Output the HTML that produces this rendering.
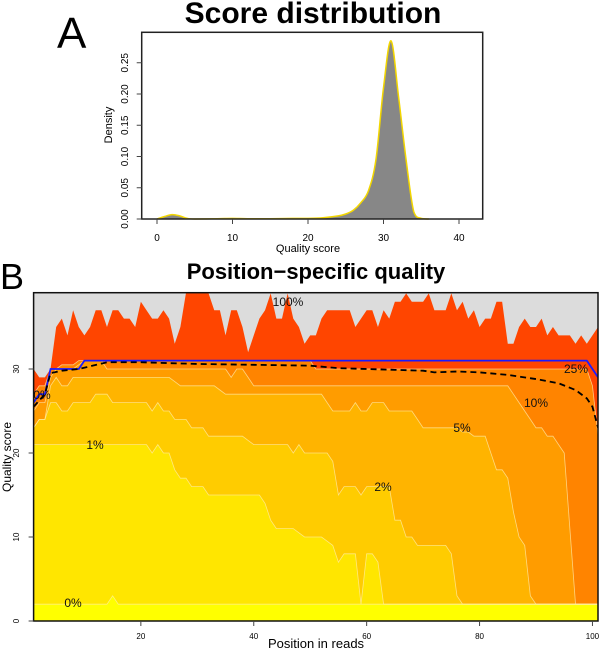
<!DOCTYPE html>
<html><head><meta charset="utf-8"><style>
html,body{margin:0;padding:0;background:#fff;}
svg{display:block;font-family:"Liberation Sans",Arial,sans-serif;}
</style></head><body>
<svg id="fig" width="600" height="651" viewBox="0 0 600 651" xmlns="http://www.w3.org/2000/svg">
<text x="57" y="48" font-size="44" fill="#000">A</text>
<text x="313" y="23" font-size="30" font-weight="bold" text-anchor="middle">Score distribution</text>
<g id="pa"></g>
<text x="0" y="289" font-size="36" fill="#000">B</text>
<text x="316" y="279" font-size="22" font-weight="bold" text-anchor="middle">Position−specific quality</text>
<g id="pb"></g>
</svg>
<script>
// ---------- Panel A data ----------
const densX = [0,1,2,3,4,5,8,10,12,15,18,20,22,24,25,26,27,28,29,30,31,32,33,34,35,36];
const densY = [0,0.004,0.007,0.005,0.001,0,0.0005,0.001,0.0005,0.0005,0.001,0.001,0.002,0.005,0.008,0.014,0.026,0.045,0.095,0.21,0.285,0.195,0.094,0.012,0.001,0];
const aXTicks = [0,10,20,30,40];
const aYTicks = [0,0.05,0.10,0.15,0.20,0.25];
const aYTickLabels = ["0.00","0.05","0.10","0.15","0.20","0.25"];

// ---------- Panel B data (positions 1..101) ----------
const positions = Array.from({length:101},(_,i)=>i+1);
const q0 = [2,2,2,2,2,2,2,2,2,2,2,2,2,2,3,2,2,2,2,2,2,2,2,2,2,2,2,2,2,2,2,2,2,2,2,2,2,2,2,2,2,2,2,2,2,2,2,2,2,2,2,2,2,2,2,2,2,2,2,2,2,2,2,2,2,2,2,2,2,2,2,2,2,2,2,2,2,2,2,2,2,2,2,2,2,2,2,2,2,2,2,2,2,2,2,2,2,2,2,2,2];
const q1 = [21,21,21,21,21,21,21,21,21,21,21,21,21,21,21,21,21,21,21,21,21,20,21,20,20,18,17,17,16,16,16,15,15,15,15,15,15,15,15,15,15,14,12,11,11,11,11,10.5,10,10,10,10,9.5,9,7,8,8,8,2,8,8,7,2,2,2,2,2,2,2,2,2,2,2,2,2,2,2,2,2,2,2,2,2,2,2,2,2,2,2,2,2,2,2,2,2,2,2,2,2,2,2];
const q2 = [23,24,24,26,26,25,25,26,26,26,26,27,27,27,26,26,26,26,26,26,26,25,26,25,25,24,24,24,23,23,23,22,22,22,22,22,22,22,21.5,21,21,21,21,21,21,21,20,21,20,20,20,20,20,19,15,16,16,16,15,16,16,16,16,16,12,12,10,10,9,9,9,9,9,9,8,3,2,2,2,2,2,2,2,2,2,2,2,2,2,2,2,2,2,2,2,2,2,2,2,2,2];
const q5 = [23,24,24,28,29,28,28,29,29,29,29,29,29,29,29,29,29,29,29,29,29,29,29,29,29,28.5,28,28,28,28,28,28,28,27.5,27,27,27,27,27,27,27,27,27,27,27,27,27,27,27,27,27,27,26,25,25,25,25,26,25,25,26,26,26,25,25,25,25,25,24,23,23,23,23,23,23,23,22.5,22.5,22,22,22,20,18,18,17,13,10,9,3,2,2,2,2,2,2,2,2,2,2,2,2];
const q10 = [25,26,26,29,30,30,30,30,30.5,31,31,31,31,30,30,30,30,30,30,30,30,30,30,30,30,30,30,30,30,30,30,30,30,30,30,29,30,30,29,28,28,28,28,28,28,28,28,28,28,28,28,28,28,28,28,28,28,28,28,28,28,28,28,28,28,28,28,28,28,28,28,28,28,28,28,28,28,28,28,28,28,28,28,28,28,27,26,25,24,23,23,22,22,21,20,11,2,2,2,2,2];
const q25 = [27,28,28,30,30,30.5,30.5,30.5,31,31,31,31,31,31,31,31,31,31,31,31,31,31,31,31,31,31,31,31,31,31,31,31,31,31,31,31,31,31,31,31,31,31,31,31,31,31,31,31,31,31,30,30,30,30,30,30,30,30,30,30,30,30,30,30,30,30,30,30,30,30,30,30,30,30,30,30,30,30,30,30,30,30,30,30,30,30,30,30,30,30,30,30,30,30,30,30,30,30,30,28,22];
const q100 = [30,29,29,30,35,36,34,37,35,34,35,37,37,35,37,37,36,36,35,38,37,36,36,37,36,33,35,40,40,40,40,39,37,37,34,37,37,35,32,34,36,37,39,36,36,39,36,35,33,34,34,36,37,37,37,37,37,35,36,37,37,35,37,36,38,38,39,38,38,38,39,37,37,37,39,37,38,36,37,35,36,36,38,38,33,33,35,36,35,35,36,34,35,34,34,34,33,34,33,34,35];
const medianQ = [26,27,27,30,30,30,30,30,30,31,31,31,31,31,31,31,31,31,31,31,31,31,31,31,31,31,31,31,31,31,31,31,31,31,31,31,31,31,31,31,31,31,31,31,31,31,31,31,31,31,31,31,31,31,31,31,31,31,31,31,31,31,31,31,31,31,31,31,31,31,31,31,31,31,31,31,31,31,31,31,31,31,31,31,31,31,31,31,31,31,31,31,31,31,31,31,31,31,31,30,29];
const meanPos = [1,3,4,6,9,14,20,30,40,50,55,60,65,70,72,76,80,85,90,94,97,99,100,101];
const meanQ = [25.5,27,29.5,29.8,30,30.8,30.8,30.6,30.5,30.4,30.1,30,29.9,29.8,29.6,29.7,29.6,29.3,28.8,28.3,27.5,26.5,25.5,23];
const bXTicks = [20,40,60,80,100];
const bYTicks = [0,10,20,30];
const contourLabels = ["0%","0%","1%","2%","5%","10%","25%","100%"];

const NS="http://www.w3.org/2000/svg";
function mk(parent,tag,attrs,name,text){
  const e=document.createElementNS(NS,tag);
  for(const k in attrs) e.setAttribute(k,attrs[k]);
  
  
  if(text!==undefined) e.textContent=text;
  parent.appendChild(e);return e;
}

// ---------- Panel A ----------
const pa=document.getElementById('pa');
const axL=141.7, axR=482.7, ayT=32.3, ayB=219;
const xA=v=>157+v*7.55, yA=d=>219-d*625;
const pts=densX.map((v,i)=>[xA(v),yA(densY[i])]);
let dp="M"+pts[0][0]+","+pts[0][1];
for(let i=0;i<pts.length-1;i++){
  const p0=pts[Math.max(i-1,0)],p1=pts[i],p2=pts[i+1],p3=pts[Math.min(i+2,pts.length-1)];
  const c1=[p1[0]+(p2[0]-p0[0])/6,p1[1]+(p2[1]-p0[1])/6];
  const c2=[p2[0]-(p3[0]-p1[0])/6,p2[1]-(p3[1]-p1[1])/6];
  dp+=` C${c1[0]},${Math.min(c1[1],ayB)} ${c2[0]},${Math.min(c2[1],ayB)} ${p2[0]},${p2[1]}`;
}
mk(pa,'path',{d:dp+" Z",fill:"#878787",stroke:"none"},'density-area');
mk(pa,'path',{d:dp,fill:"none",stroke:"#f2d600","stroke-width":1.5},'density-curve');
mk(pa,'rect',{x:axL,y:ayT,width:axR-axL,height:ayB-ayT,fill:"none",stroke:"#222","stroke-width":1.5},'plot-frame-a');
aXTicks.forEach(t=>{
  mk(pa,'line',{x1:xA(t),x2:xA(t),y1:ayB,y2:ayB+5,stroke:"#444"},'x-tick-a');
  mk(pa,'text',{x:xA(t),y:241,"font-size":10,"text-anchor":"middle"},'x-tick-label-a',String(t));
});
aYTicks.forEach((t,i)=>{
  mk(pa,'line',{x1:axL-5,x2:axL,y1:yA(t),y2:yA(t),stroke:"#444"},'y-tick-a');
  mk(pa,'text',{x:0,y:0,"font-size":10,"text-anchor":"middle",transform:`translate(128,${yA(t)}) rotate(-90)`},'y-tick-label-a',aYTickLabels[i]);
});
mk(pa,'text',{x:xA(20),y:252,"font-size":11,"text-anchor":"middle"},'x-axis-title-a',"Quality score");
mk(pa,'text',{x:0,y:0,"font-size":11,"text-anchor":"middle",transform:"translate(112,125) rotate(-90)"},'y-axis-title-a',"Density");

// ---------- Panel B ----------
const pb=document.getElementById('pb');
const bL=33.6,bR=598,bT=292.7,bB=621;
const xB=p=>33.6+(p-1)*5.645, yB=v=>Math.max(bT,621-v*8.4);
mk(pb,'clipPath',{id:"clipB"},'clip-b');
mk(pb.lastChild,'rect',{x:bL,y:bT,width:bR-bL,height:bB-bT},'clip-rect');
const g=mk(pb,'g',{"clip-path":"url(#clipB)"},'contour-layers');
mk(g,'rect',{x:bL,y:bT,width:bR-bL,height:bB-bT,fill:"#dcdcdc"},'background-above-max');
function area(arr){
  let d=`M${xB(positions[0])},${bB}`;
  arr.forEach((v,i)=>{d+=` L${xB(positions[i])},${yB(v)}`;});
  return d+` L${xB(positions[positions.length-1])},${bB} Z`;
}
function line(arr,px){
  return arr.map((v,i)=>(i?"L":"M")+xB(px[i])+","+yB(v)).join(" ");
}
const layers=[[q100,"#ff4500","band-25-100"],[q25,"#ff8400","band-10-25"],[q10,"#ff9c00","band-5-10"],[q5,"#ffb400","band-2-5"],[q2,"#ffcc00","band-1-2"],[q1,"#ffe600","band-0-1"],[q0,"#ffff00","band-0"]];
layers.forEach(L=>{
  mk(g,'path',{d:area(L[0]),fill:L[1],stroke:"none"},L[2]);
});
[q0,q1,q2,q5,q10,q25].forEach(arr=>{
  mk(g,'path',{d:line(arr,positions),fill:"none",stroke:"rgba(255,240,180,0.7)","stroke-width":0.8},'contour-line');
});
mk(g,'path',{d:line(medianQ,positions),fill:"none",stroke:"#1a1aff","stroke-width":1.8},'median-line');
mk(g,'path',{d:line(meanQ,meanPos),fill:"none",stroke:"#000","stroke-width":1.8,"stroke-dasharray":"6,4"},'mean-line');
mk(pb,'rect',{x:bL,y:bT,width:bR-bL,height:bB-bT,fill:"none",stroke:"#111","stroke-width":1.5},'plot-frame-b');
bXTicks.forEach(t=>{
  mk(pb,'line',{x1:xB(t),x2:xB(t),y1:bB,y2:bB+5,stroke:"#444"},'x-tick-b');
  mk(pb,'text',{x:xB(t),y:639,"font-size":8,"text-anchor":"middle"},'x-tick-label-b',String(t));
});
bYTicks.forEach(t=>{
  mk(pb,'line',{x1:bL-5,x2:bL,y1:yB(t),y2:yB(t),stroke:"#444"},'y-tick-b');
  mk(pb,'text',{x:0,y:0,"font-size":8,"text-anchor":"middle",transform:`translate(19,${yB(t)}) rotate(-90)`},'y-tick-label-b',String(t));
});
mk(pb,'text',{x:316,y:648,"font-size":13,"text-anchor":"middle"},'x-axis-title-b',"Position in reads");
mk(pb,'text',{x:0,y:0,"font-size":12,"text-anchor":"middle",transform:"translate(11,457) rotate(-90)"},'y-axis-title-b',"Quality score");
const labPos=[[73,607],[42,399],[95,449],[383,491],[462,432],[536,407],[576,373],[288,306]];
contourLabels.forEach((s,i)=>{
  mk(pb,'text',{x:labPos[i][0],y:labPos[i][1],"font-size":12,"text-anchor":"middle",fill:"#111"},'contour-label',s);
});
</script>
</body></html>
